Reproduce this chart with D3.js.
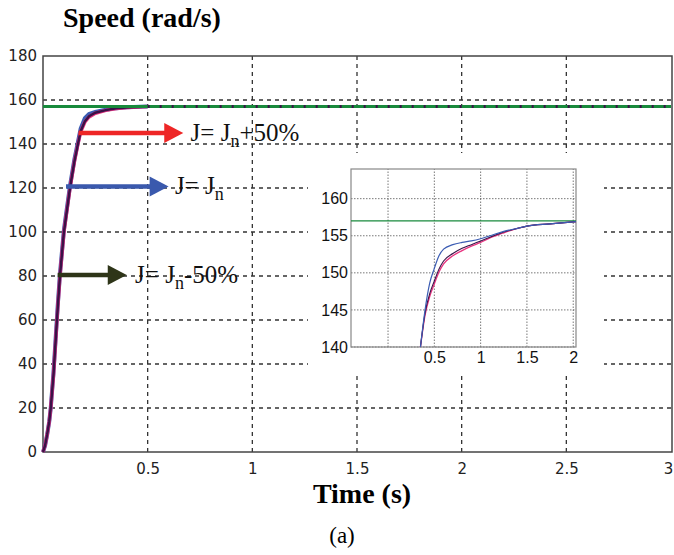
<!DOCTYPE html>
<html>
<head>
<meta charset="utf-8">
<script src="https://cdn.jsdelivr.net/npm/d3@7"></script>
<style>
  body { margin: 0; background: #fff; }
  svg { display: block; }
</style>
</head>
<body>
<div id="chart"></div>
<script>
// speed response, main plot (time s, speed rad/s)
const mainTime   = [0, 0.01, 0.02, 0.03, 0.037, 0.05, 0.06, 0.07, 0.081, 0.1, 0.129, 0.15, 0.167, 0.18, 0.2, 0.22, 0.25, 0.3, 0.35, 0.4, 0.5];
const mainJn     = [0, 3, 8, 14, 20, 36, 51, 66, 81, 101, 121, 133, 141, 147, 151.8, 153.6, 154.6, 155.6, 156.3, 156.7, 157];
const mainJnPlus = [0, 3, 8, 14, 20, 35, 50, 65, 80, 100, 120, 132, 140, 145.5, 150, 152.3, 154, 155.3, 156.1, 156.6, 157];
const mainJnMinus= [0, 3, 8, 14, 20, 35, 50, 65, 80, 100, 120, 132, 140, 145.8, 150.3, 152.6, 154.2, 155.4, 156.2, 156.6, 157];

// zoomed view
const zoomTime    = [0.35, 0.4, 0.45, 0.5, 0.55, 0.6, 0.7, 0.8, 0.9, 1.0, 1.1, 1.25, 1.4, 1.5, 1.75, 2.03];
const zoomJn      = [140, 145, 148.6, 150.6, 152.3, 153.2, 153.8, 154.1, 154.3, 154.6, 155.0, 155.6, 156.0, 156.3, 156.6, 156.9];
const zoomJnPlus  = [140, 144.3, 146.8, 148.5, 150.1, 151.2, 152.3, 153.0, 153.6, 154.1, 154.7, 155.4, 156.0, 156.3, 156.6, 156.9];
const zoomJnMinus = [140, 144.6, 147.2, 148.9, 150.5, 151.6, 152.6, 153.3, 153.8, 154.3, 154.8, 155.5, 156.0, 156.3, 156.6, 156.9];

const refSpeed = 157;

const mainXTicks = [0.5, 1, 1.5, 2, 2.5, 3];
const mainYTicks = [0, 20, 40, 60, 80, 100, 120, 140, 160, 180];
const zoomXTicks = [0, 0.5, 1, 1.5, 2];
const zoomYTicks = [140, 145, 150, 155, 160];

// arrow annotations: t start, t end, speed, label parts
const arrows = [
  { t0: 0.17, t1: 0.67, v: 145, color: "#ee2626", label: ["J= J", "n", "+50%"], lt: 0.705 },
  { t0: 0.11, t1: 0.60, v: 120.7, color: "#3a59ad", label: ["J= J", "n", ""], lt: 0.63 },
  { t0: 0.07, t1: 0.40, v: 80.5, color: "#2e3518", label: ["J= J", "n", "-50%"], lt: 0.44 }
];

const colors = { jn: "#3b5cb3", plus: "#e8337f", minus: "#3a1248", ref: "#188a3c" };

const W = 674, H = 555;
const serif = "'Liberation Serif', 'Times New Roman', serif";
const svg = d3.select("#chart").append("svg").attr("width", W).attr("height", H)
  .style("font-family", "'Liberation Sans', Arial, sans-serif");

const x = d3.scaleLinear().domain([0, 3]).range([43, 671]);
const y = d3.scaleLinear().domain([0, 180]).range([452, 56]);

const grid = svg.append("g");
grid.selectAll(".gx").data(mainXTicks.slice(0, -1)).join("line")
  .attr("x1", d => x(d)).attr("x2", d => x(d)).attr("y1", y(0)).attr("y2", y(180))
  .attr("stroke", "#333").attr("stroke-width", 1.3).attr("stroke-dasharray", "4,4");
grid.selectAll(".gy").data(mainYTicks.slice(1, -1)).join("line")
  .attr("x1", x(0)).attr("x2", x(3)).attr("y1", d => y(d)).attr("y2", d => y(d))
  .attr("stroke", "#333").attr("stroke-width", 1.3).attr("stroke-dasharray", "4,4");

// axes
svg.append("g").attr("transform", `translate(0,${y(0)})`)
  .call(d3.axisBottom(x).tickValues(mainXTicks).tickSize(0).tickPadding(11).tickFormat(d3.format("")))
  .call(g => g.select(".domain").remove())
  .selectAll("text").attr("font-family", "'DejaVu Sans', sans-serif").attr("font-size", 15).attr("fill", "#222")
  .attr("dx", d => d === 3 ? -3 : 0);
svg.append("g").attr("transform", `translate(${x(0)},0)`)
  .call(d3.axisLeft(y).tickValues(mainYTicks).tickSize(0).tickPadding(6))
  .call(g => g.select(".domain").remove())
  .selectAll("text").attr("font-family", "'DejaVu Sans', sans-serif").attr("font-size", 15).attr("fill", "#222");

svg.append("rect").attr("x", x(0)).attr("y", y(180))
  .attr("width", x(3) - x(0) + 1).attr("height", y(0) - y(180))
  .attr("fill", "none").attr("stroke", "#444").attr("stroke-width", 1.5);

// main curves
const mainLine = d3.line().x(d => x(d[0])).y(d => y(d[1]));
const mk = vals => mainTime.map((t, i) => [t, vals[i]]);
svg.append("path").attr("d", mainLine(mk(mainJn))).attr("fill", "none")
  .attr("stroke", colors.jn).attr("stroke-width", 4);
svg.append("path").attr("d", mainLine(mk(mainJnPlus))).attr("fill", "none")
  .attr("stroke", colors.plus).attr("stroke-width", 3.5);
svg.append("path").attr("d", mainLine(mk(mainJnMinus))).attr("fill", "none")
  .attr("stroke", colors.minus).attr("stroke-width", 2.5);
svg.append("line").attr("x1", x(0)).attr("x2", x(3)).attr("y1", y(refSpeed)).attr("y2", y(refSpeed))
  .attr("stroke", colors.ref).attr("stroke-width", 3);
svg.append("line").attr("x1", x(0.5)).attr("x2", x(3)).attr("y1", y(refSpeed)).attr("y2", y(refSpeed))
  .attr("stroke", colors.minus).attr("stroke-width", 3).attr("stroke-dasharray", "2,10");

// arrows
arrows.forEach(a => {
  const g = svg.append("g");
  const yy = y(a.v), xs = x(a.t0), xe = x(a.t1);
  g.append("line").attr("x1", xs).attr("x2", xe - 16).attr("y1", yy).attr("y2", yy)
    .attr("stroke", a.color).attr("stroke-width", 4.5);
  g.append("path").attr("d", `M${xe - 19},${yy - 10}L${xe},${yy}L${xe - 19},${yy + 10}Z`).attr("fill", a.color);
  const t = g.append("text").attr("x", x(a.lt)).attr("y", yy + 8)
    .attr("font-family", serif).attr("font-size", 25).attr("fill", "#111");
  t.append("tspan").text(a.label[0]);
  t.append("tspan").text(a.label[1]).attr("font-size", 18).attr("dy", 6);
  if (a.label[2]) t.append("tspan").text(a.label[2]).attr("dy", -6);
});

// inset
const xi = d3.scaleLinear().domain([-0.4, 2.03]).range([351, 576]);
const yi = d3.scaleLinear().domain([140, 164]).range([347, 169]);
const inset = svg.append("g");
inset.append("rect").attr("x", 308).attr("y", 153).attr("width", 296).attr("height", 220).attr("fill", "#fff");
inset.selectAll(".ix").data(zoomXTicks).join("line")
  .attr("x1", d => xi(d)).attr("x2", d => xi(d)).attr("y1", yi(140)).attr("y2", yi(164))
  .attr("stroke", "#555").attr("stroke-width", 0.8).attr("stroke-dasharray", "1.5,1.5");
inset.selectAll(".iy").data(zoomYTicks).join("line")
  .attr("x1", xi(-0.4)).attr("x2", xi(2.03)).attr("y1", d => yi(d)).attr("y2", d => yi(d))
  .attr("stroke", "#555").attr("stroke-width", 0.8).attr("stroke-dasharray", "1.5,1.5");
inset.append("g").attr("transform", `translate(0,${yi(140)})`)
  .call(d3.axisBottom(xi).tickValues(zoomXTicks.slice(1)).tickSize(0).tickPadding(5).tickFormat(d3.format("")))
  .call(g => g.select(".domain").remove())
  .selectAll("text").attr("font-size", 16).attr("fill", "#111");
inset.append("g").attr("transform", `translate(${xi(-0.4)},0)`)
  .call(d3.axisLeft(yi).tickValues(zoomYTicks).tickSize(0).tickPadding(3))
  .call(g => g.select(".domain").remove())
  .selectAll("text").attr("font-size", 16).attr("fill", "#111");
inset.append("rect").attr("x", xi(-0.4)).attr("y", yi(164))
  .attr("width", xi(2.03) - xi(-0.4)).attr("height", yi(140) - yi(164))
  .attr("fill", "none").attr("stroke", "#888").attr("stroke-width", 1.2);
inset.append("line").attr("x1", xi(-0.4)).attr("x2", xi(2.03)).attr("y1", yi(refSpeed)).attr("y2", yi(refSpeed))
  .attr("stroke", colors.ref).attr("stroke-width", 1.2);
const zl = d3.line().x(d => xi(d[0])).y(d => yi(d[1])).curve(d3.curveMonotoneX);
const zk = vals => zoomTime.map((t, i) => [t, vals[i]]);
inset.append("path").attr("d", zl(zk(zoomJnPlus))).attr("fill", "none").attr("stroke", colors.plus).attr("stroke-width", 1.3);
inset.append("path").attr("d", zl(zk(zoomJnMinus))).attr("fill", "none").attr("stroke", colors.minus).attr("stroke-width", 1.1);
inset.append("path").attr("d", zl(zk(zoomJn))).attr("fill", "none").attr("stroke", colors.jn).attr("stroke-width", 1.2);

// titles
svg.append("text").attr("x", 63).attr("y", 27).text("Speed (rad/s)")
  .attr("font-family", serif).attr("font-weight", "bold").attr("font-size", 28);
svg.append("text").attr("x", 362).attr("y", 503).attr("text-anchor", "middle").text("Time (s)")
  .attr("font-family", serif).attr("font-weight", "bold").attr("font-size", 28);
svg.append("text").attr("x", 342).attr("y", 543).attr("text-anchor", "middle").text("(a)")
  .attr("font-family", serif).attr("font-size", 23);
</script>
</body>
</html>
